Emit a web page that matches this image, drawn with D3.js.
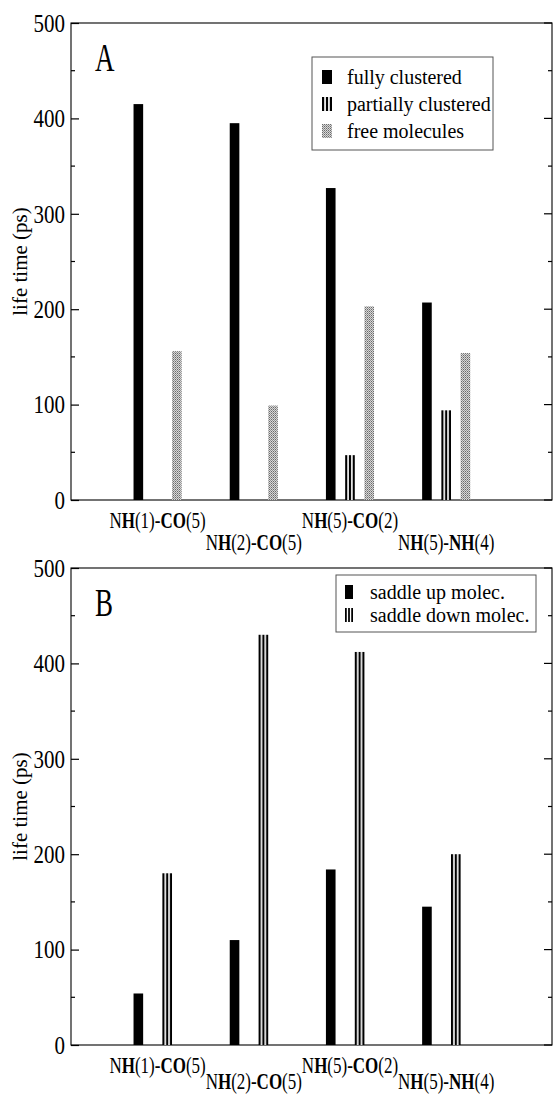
<!DOCTYPE html>
<html>
<head>
<meta charset="utf-8">
<script src="https://cdn.jsdelivr.net/npm/d3@7"></script>
<style>
  html, body { margin: 0; padding: 0; background: #fff; }
  svg { display: block; }
  text { font-family: "Liberation Serif", "DejaVu Serif", serif; fill: #000; }
</style>
</head>
<body>
<svg id="chart" width="553" height="1095"></svg>
<script>
// Hydrogen-bond pairs along the x axis (text, bold?)
const pairs = [
  [["N", false], ["H", true], ["(1)-", false], ["CO", true], ["(5)", false]],
  [["N", false], ["H", true], ["(2)-", false], ["CO", true], ["(5)", false]],
  [["N", false], ["H", true], ["(5)-", false], ["CO", true], ["(2)", false]],
  [["N", false], ["H", true], ["(5)-", false], ["NH", true], ["(4)", false]]
];
const pairPos = [1, 2, 3, 4];

// Panel A: life time (ps) by clustering state
const fullyClustered     = [415, 395, 327, 207];
const partiallyClustered = [0, 0, 47, 94];
const freeMolecules      = [156, 99, 203, 154];
const legendA = ["fully clustered", "partially clustered", "free molecules"];

// Panel B: life time (ps) by saddle orientation
const saddleUp   = [54, 110, 184, 145];
const saddleDown = [180, 430, 412, 200];
const legendB = ["saddle up molec.", "saddle down molec."];

const yTicks = [0, 100, 200, 300, 400, 500];
const yMinor = [50, 150, 250, 350, 450];

const svg = d3.select("#chart");
const defs = svg.append("defs");

// vertical stripes: three black lines across the bar width
const stripes = defs.append("pattern")
  .attr("id", "stripes")
  .attr("patternUnits", "objectBoundingBox")
  .attr("patternContentUnits", "objectBoundingBox")
  .attr("width", 1).attr("height", 1);
stripes.append("rect").attr("width", 1).attr("height", 1).attr("fill", "#fff");
[0, 0.39, 0.78].forEach(x => stripes.append("rect")
  .attr("x", x).attr("y", 0).attr("width", 0.22).attr("height", 1).attr("fill", "#000"));

// fine checker halftone
const dots = defs.append("pattern")
  .attr("id", "dots")
  .attr("patternUnits", "userSpaceOnUse")
  .attr("width", 2).attr("height", 2);
dots.append("rect").attr("width", 2).attr("height", 2).attr("fill", "#d8d8d8");
dots.append("rect").attr("x", 0).attr("y", 0).attr("width", 1).attr("height", 1).attr("fill", "#6a6a6a");
dots.append("rect").attr("x", 1).attr("y", 1).attr("width", 1).attr("height", 1).attr("fill", "#949494");

const left = 71, width = 481, plotH = 477;

// text drawn with a taller-than-normal aspect
function tallText(sel, x, y, k) {
  return sel.append("text").attr("transform", `translate(${x},${y}) scale(1,${k})`);
}

function panel(top, letter, series, legend, box, labelDy) {
  const g = svg.append("g").attr("transform", `translate(${left},${top})`);
  const x = d3.scaleLinear().domain([0, 5]).range([0, width]);
  const y = d3.scaleLinear().domain([0, 500]).range([plotH, 0]);
  const barW = x(0.1) - x(0);

  // frame
  g.append("rect").attr("width", width).attr("height", plotH)
    .attr("fill", "none").attr("stroke", "#000").attr("stroke-width", 1.1);

  // left axis
  const yAxis = d3.axisLeft(y).tickValues(yTicks).tickSize(-8).tickPadding(6).tickFormat(d3.format("d"));
  const ya = g.append("g").call(yAxis);
  ya.select(".domain").remove();
  ya.selectAll("line").attr("stroke", "#000").attr("stroke-width", 1.2);
  ya.selectAll("text").attr("font-size", 21).attr("dy", "0.33em")
    .attr("font-family", "Liberation Serif").attr("transform", "scale(1,1.2)");
  g.append("g").selectAll("line").data(yMinor).join("line")
    .attr("x1", 0).attr("x2", 4).attr("y1", d => y(d)).attr("y2", d => y(d))
    .attr("stroke", "#000").attr("stroke-width", 1.2);

  // right axis
  g.append("g").selectAll("line").data(yTicks).join("line")
    .attr("x1", width).attr("x2", width - 8).attr("y1", d => y(d)).attr("y2", d => y(d))
    .attr("stroke", "#000").attr("stroke-width", 1.2);
  g.append("g").selectAll("line").data(yMinor).join("line")
    .attr("x1", width).attr("x2", width - 4).attr("y1", d => y(d)).attr("y2", d => y(d))
    .attr("stroke", "#000").attr("stroke-width", 1.2);

  // bars
  series.forEach(s => {
    g.append("g").selectAll("rect").data(s.values).join("rect")
      .attr("x", (d, i) => x(pairPos[i] + s.offset) - barW / 2)
      .attr("y", d => y(d))
      .attr("width", barW)
      .attr("height", d => y(0) - y(d))
      .attr("fill", s.fill);
  });

  // pair labels, alternating high / low
  pairs.forEach((parts, i) => {
    const t = tallText(g, x(pairPos[i] - 0.1), plotH + labelDy[i % 2], 1.35)
      .attr("text-anchor", "middle")
      .attr("font-size", 17);
    parts.forEach(([s, b]) => t.append("tspan").text(s).attr("font-weight", b ? "bold" : "normal"));
  });

  // y title
  svg.append("text")
    .attr("transform", `translate(20,${top + plotH / 2}) rotate(-90)`)
    .attr("text-anchor", "middle")
    .attr("dy", "0.32em")
    .attr("font-size", 21)
    .text("life time (ps)");

  // panel letter
  tallText(g, 24, 48, 1.45).attr("font-size", 27).text(letter);

  // legend
  const lg = svg.append("g");
  lg.append("rect").attr("x", box.x).attr("y", box.y).attr("width", box.w).attr("height", box.h)
    .attr("fill", "#fff").attr("stroke", "#555").attr("stroke-width", 1);
  legend.forEach((name, i) => {
    const cy = box.y + box.first + i * box.step;
    lg.append("rect").attr("x", box.sx).attr("y", cy - 7).attr("width", box.sw).attr("height", 14)
      .attr("fill", series[i].fill);
    tallText(lg, box.tx, cy, box.k).attr("dy", "0.33em")
      .attr("font-size", 20).text(name);
  });
}

panel(23, "A", [
  { values: fullyClustered, offset: -0.3, fill: "#000" },
  { values: partiallyClustered, offset: -0.1, fill: "url(#stripes)" },
  { values: freeMolecules, offset: 0.1, fill: "url(#dots)" }
], legendA, { x: 312, y: 57, w: 181, h: 93, first: 20, step: 27, sx: 322, sw: 10, tx: 347, k: 1.08 }, [28, 50]);

panel(568, "B", [
  { values: saddleUp, offset: -0.3, fill: "#000" },
  { values: saddleDown, offset: 0, fill: "url(#stripes)" }
], legendB, { x: 336, y: 575, w: 200, h: 57, first: 17, step: 23, sx: 345, sw: 8, tx: 370, k: 1.0 }, [28, 44]);
</script>
</body>
</html>
